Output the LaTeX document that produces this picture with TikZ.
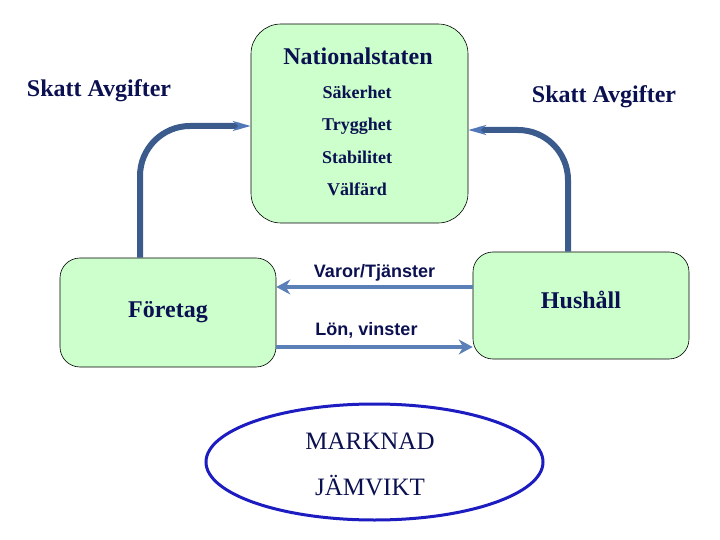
\documentclass[tikz,border=0pt]{standalone}
\usepackage{fontspec}
\setmainfont{Liberation Serif}
\newfontfamily\arialfont{Liberation Sans}
\usepackage{tikz}
\usetikzlibrary{arrows.meta, positioning, calc, shapes.geometric}
\definecolor{boxfill}{HTML}{CCFFCC}
\definecolor{navytext}{HTML}{0B1050}
\definecolor{taxline}{HTML}{3B5B8C}
\definecolor{taxtip}{HTML}{5078B8}
\definecolor{flowline}{HTML}{5B80B8}
\definecolor{marketline}{HTML}{1C1CC0}

\begin{document}
\begin{tikzpicture}[x=1pt, y=-1pt,
    box/.style={draw=black, line width=0.6pt, fill=boxfill},
    lbl/.style={text=navytext, font=\bfseries\fontsize{24}{27}\selectfont, inner sep=0pt},
    item/.style={text=navytext, font=\bfseries\fontsize{18}{21}\selectfont, inner sep=0pt},
    flowlbl/.style={text=navytext, font=\arialfont\bfseries\fontsize{18}{21}\selectfont, inner sep=0pt},
    tax/.style={draw=taxline, line width=6pt, rounded corners=50pt,
      -{Stealth[length=18pt, width=10pt, color=taxtip]}},
    flow/.style={draw=flowline, line width=4pt, -{Stealth[length=14pt, width=15pt]}},
    market/.style={ellipse, draw=marketline, line width=3pt}]
  \useasboundingbox (0,0) rectangle (720,540);
  % boxes
  \node[box, rounded corners=30pt, minimum width=217pt, minimum height=199pt] (stat) at (359.5,123.5) {};
  \node[box, rounded corners=20pt, minimum width=216pt, minimum height=109pt] (foretag) at (168,312.5) {};
  \node[box, rounded corners=20pt, minimum width=216pt, minimum height=107pt] (hushall) at (581,305.5) {};
  \node[market, minimum width=337pt, minimum height=116pt] (markt) at (374.5,462) {};
  % texts
  \node[lbl] (natl) at (358,56) {Nationalstaten};
  \node[item] (sak) at (357,92) {Säkerhet};
  \node[item] (tryg) at (357,126) {Trygghet};
  \node[item] (stab) at (357,157) {Stabilitet};
  \node[item] (valf) at (357,189) {Välfärd};
  \node[lbl] (skattv) at (99,91) {Skatt Avgifter};
  \node[lbl] (skatth) at (604,97) {Skatt Avgifter};
  \node[lbl] at (foretag) {Företag};
  \node[lbl] at ([yshift=5.5pt]hushall.center) {Hushåll};
  \node[lbl, font=\fontsize{25}{28}\selectfont] (mark) at (370,441) {MARKNAD};
  \node[lbl, font=\fontsize{25}{28}\selectfont] (jamv) at (370,486) {JÄMVIKT};
  % taxes
  \draw[tax] ([xshift=-28pt]foretag.north) |- ([yshift=-2.5pt]stat.west);
  \draw[tax] ([xshift=-13pt]hushall.north) |- ([yshift=-6.5pt]stat.east);
  % market flows
  \draw[flow] ([yshift=18.5pt]hushall.west) -- node[flowlbl, above=4pt] {Varor/Tjänster} ([yshift=18.5pt]hushall.west -| foretag.east);
  \draw[flow] ([yshift=-34.5pt]foretag.east) -- node[flowlbl, above=7pt, xshift=-8pt] {Lön, vinster} ([yshift=-34.5pt]foretag.east -| hushall.west);
\end{tikzpicture}
\end{document}
